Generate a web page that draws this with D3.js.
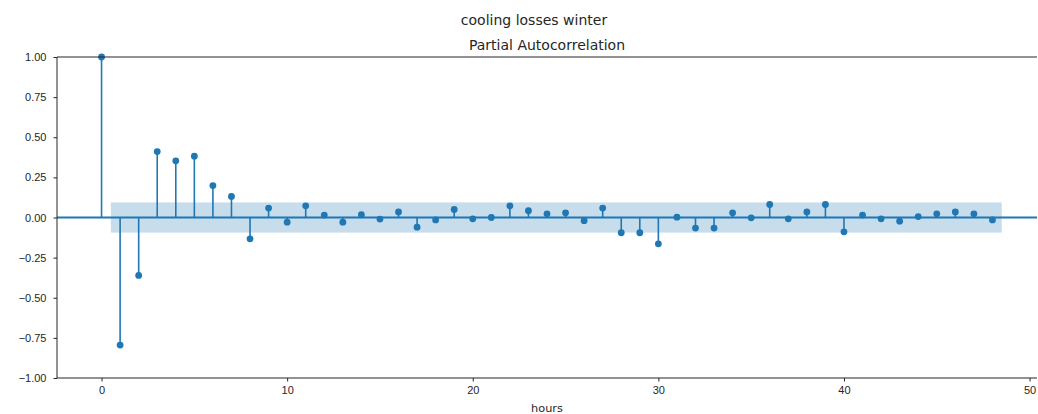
<!DOCTYPE html>
<html>
<head>
<meta charset="utf-8">
<script src="https://cdn.jsdelivr.net/npm/d3@7"></script>
<style>
  body { margin: 0; background: #fff; }
  svg { display: block; font-family: "DejaVu Sans", sans-serif; }
  .axis text { font-size: 11px; fill: #262626; }
  .axis path, .axis line { stroke: #262626; }
</style>
</head>
<body>
<svg id="chart" width="1038" height="414"></svg>
<script>
// partial autocorrelation per lag (hours 0..48)
const lags = d3.range(0, 49);
const pacf = [
    1.000, -0.795, -0.361, 0.411, 0.353, 0.382, 0.199, 0.131, -0.133, 0.059,
    -0.029, 0.073, 0.015, -0.029, 0.017, -0.010, 0.035, -0.060, -0.015, 0.050,
    -0.008, 0.000, 0.073, 0.042, 0.023, 0.029, -0.020, 0.059, -0.095, -0.095,
    -0.164, 0.002, -0.066, -0.066, 0.029, -0.002, 0.081, -0.008, 0.035, 0.081,
    -0.089, 0.015, -0.008, -0.023, 0.006, 0.023, 0.035, 0.023, -0.015
];
const confBand = 0.094;
const xTicks = [0, 10, 20, 30, 40, 50];
const yTicks = [-1, -0.75, -0.5, -0.25, 0, 0.25, 0.5, 0.75, 1];

const blue = '#1f77b4';

const svg = d3.select('#chart');
const margin = { top: 57, right: 1, bottom: 36, left: 57 };
const width = +svg.attr('width') - margin.left - margin.right;
const height = +svg.attr('height') - margin.top - margin.bottom;

const g = svg.append('g')
    .attr('transform', `translate(${margin.left},${margin.top})`);

// SCALES (matplotlib-style 5% margins on x)
const x = d3.scaleLinear().domain([-2.4, 50.4]).range([0, width]);
const y = d3.scaleLinear().domain([-1, 1]).range([height, 0]);

// CONFIDENCE BAND
g.append('rect')
    .attr('x', x(0.5))
    .attr('y', y(confBand))
    .attr('width', x(48.5) - x(0.5))
    .attr('height', y(-confBand) - y(confBand))
    .attr('fill', blue)
    .attr('fill-opacity', 0.25);

// ZERO LINE
g.append('line')
    .attr('x1', 0).attr('x2', width)
    .attr('y1', y(0)).attr('y2', y(0))
    .attr('stroke', blue)
    .attr('stroke-width', 1.8);

// STEMS
g.selectAll('.stem')
    .data(lags)
    .enter()
    .append('line')
    .attr('class', 'stem')
    .attr('x1', d => x(d)).attr('x2', d => x(d))
    .attr('y1', y(0)).attr('y2', d => y(pacf[d]))
    .attr('stroke', blue)
    .attr('stroke-width', 1.6);

// MARKERS
g.selectAll('.dot')
    .data(lags)
    .enter()
    .append('circle')
    .attr('class', 'dot')
    .attr('cx', d => x(d))
    .attr('cy', d => y(pacf[d]))
    .attr('r', 3.4)
    .attr('fill', blue);

// AXES
g.append('g')
    .attr('class', 'axis')
    .attr('transform', `translate(0,${height})`)
    .call(d3.axisBottom(x).tickValues(xTicks).tickSize(3.5).tickPadding(5).tickFormat(d3.format('d')))
    .call(a => a.select('.domain').attr('d', `M0,0H${width}`));

g.append('g')
    .attr('class', 'axis')
    .call(d3.axisLeft(y).tickValues(yTicks).tickSize(3.5).tickPadding(7)
        .tickFormat(d => d3.format('.2f')(d).replace('-', '\u2212')))
    .call(a => a.select('.domain').attr('d', `M0,0V${height}`));

// top spine
g.append('line')
    .attr('x1', 0).attr('x2', width)
    .attr('y1', 0).attr('y2', 0)
    .attr('stroke', '#262626');

// TITLES
svg.append('text')
    .attr('x', 534)
    .attr('y', 25)
    .attr('text-anchor', 'middle')
    .style('font-size', '14px')
    .attr('fill', '#262626')
    .text('cooling losses winter');

g.append('text')
    .attr('x', width / 2)
    .attr('y', -7)
    .attr('text-anchor', 'middle')
    .style('font-size', '14px')
    .attr('fill', '#262626')
    .text('Partial Autocorrelation');

g.append('text')
    .attr('x', width / 2)
    .attr('y', height + 34)
    .attr('text-anchor', 'middle')
    .style('font-size', '11.3px')
    .attr('fill', '#262626')
    .text('hours');
</script>
</body>
</html>
